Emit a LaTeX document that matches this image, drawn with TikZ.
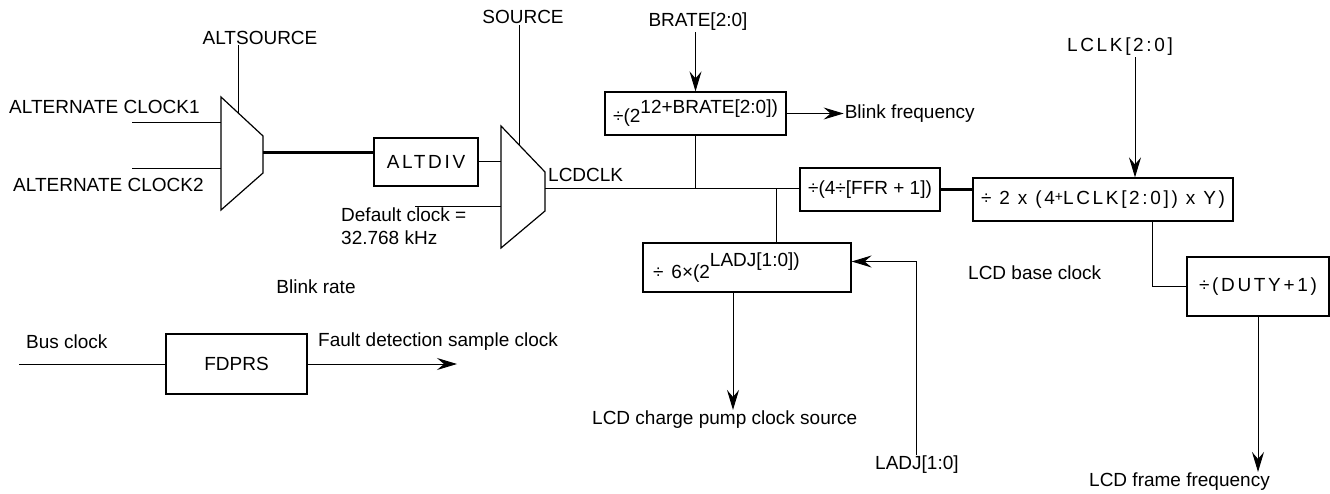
\documentclass[tikz,border=0pt]{standalone}
\usepackage{fontspec}
\setmainfont{Liberation Sans}
\usetikzlibrary{arrows.meta,positioning,calc}

\begin{document}
\begin{tikzpicture}[
        x=1pt, y=-1pt,
        every node/.style={font=\fontsize{19}{23}\selectfont},
        divBox/.style={
            draw,
            line width=1.2pt,
            inner sep=0pt,
            font=\fontsize{19}{23}\selectfont
        },
        spacedText/.style={
            font=\fontsize{19}{23}\selectfont\addfontfeature{LetterSpace=14}
        },
        sigLabel/.style={
            inner sep=1pt
        },
        signal/.style={
            line width=1pt
        },
        pointer/.style={
            -{Stealth[length=20pt,width=12pt,inset=7pt]},
            line width=1pt
        },
        busLine/.style={
            line width=3pt
        },
        muxShape/.style={
            line width=1.2pt,
            line join=miter
        }
    ]

        \useasboundingbox (0,0) rectangle (1330,494);

        % Multiplexers
        \coordinate (m1tl) at (221,97);
        \coordinate (m1tr) at (263,136);
        \coordinate (m1br) at (263,173);
        \coordinate (m1bl) at (221,210);
        \draw[muxShape] (m1tl) -- (m1tr) -- (m1br) -- (m1bl) -- cycle;

        \coordinate (m2tl) at (501,126);
        \coordinate (m2tr) at (545,172);
        \coordinate (m2br) at (545,211);
        \coordinate (m2bl) at (501,248);
        \draw[muxShape] (m2tl) -- (m2tr) -- (m2br) -- (m2bl) -- cycle;

        \coordinate (m1in1) at (221,123);
        \coordinate (m1in2) at (221,169);
        \coordinate (m1out) at (263,153);
        \coordinate (m1sel) at ($(m1tl)!0.405!(m1tr)$);
        \coordinate (m2in2) at (501,207);
        \coordinate (m2out) at (545,189);
        \coordinate (m2sel) at ($(m2tl)!0.43!(m2tr)$);

        % Divider blocks
        \node[divBox, spacedText, minimum width=104pt, minimum height=48pt]
            (altdiv) at (426,162) {ALTDIV};
        \node[divBox, minimum width=181pt, minimum height=43pt]
            (brate) at (695.5,113.5) {÷(2\raisebox{9pt}{12+BRATE[2:0])}};
        \node[divBox, line width=2pt, minimum width=140pt, minimum height=43pt]
            (ffr) at (870,190) {÷(4÷[FFR + 1])};
        \node[divBox, minimum height=49pt, text width=188pt, align=left,
            inner xsep=10pt]
            (ladj) at (747,267.5) {÷\hspace{8pt}6×(2\raisebox{12pt}{LADJ[1:0])}};
        \node[divBox, spacedText, minimum width=260pt, minimum height=43pt]
            (lclk) at (1103,199.5)
            {÷ 2 x (4\raisebox{3pt}{\fontsize{14}{14}\selectfont+}LCLK[2:0]) x Y)};
        \node[divBox, spacedText, minimum width=142pt, minimum height=59pt]
            (duty) at (1258,286.5) {÷(DUTY+1)};
        \node[divBox, minimum width=141pt, minimum height=60pt]
            (fdprs) at (236.5,364) {FDPRS};

        % Signal labels
        \node[sigLabel] (altsrc) at (260,37.5) {ALTSOURCE};
        \node[sigLabel, anchor=west] (clk1) at (8,107) {ALTERNATE CLOCK1};
        \node[sigLabel, anchor=west] (clk2) at (12,185) {ALTERNATE CLOCK2};
        \node[sigLabel] (src) at (523,17) {SOURCE};
        \node[sigLabel, anchor=west, align=left] (defclk) at (340,226)
            {Default clock =\\32.768 kHz};
        \node[sigLabel, anchor=west] (lcdclk) at (547,175) {LCDCLK};
        \node[sigLabel] (bratel) at (698,22) {BRATE[2:0]};
        \node[sigLabel, right=57pt of brate] (blinkf) {Blink frequency};
        \node[sigLabel, spacedText] (lclkl) at (1120,47) {LCLK[2:0]};
        \node[sigLabel, anchor=west] (baseclk) at (967,273) {LCD base clock};
        \node[sigLabel] (blinkr) at (316,287) {Blink rate};
        \node[sigLabel, anchor=west] (busclk) at (25,342) {Bus clock};
        \node[sigLabel, anchor=west] (fault) at (317,342)
            {Fault detection sample clock};
        \node[sigLabel, anchor=west] (pump) at (591,420)
            {LCD charge pump clock source};
        \node[sigLabel, anchor=west] (ladjl) at (874,465) {LADJ[1:0]};
        \node[sigLabel, anchor=west] (frame) at (1088,482) {LCD frame frequency};

        % Free ends
        \coordinate (clk1end) at (132,123);
        \coordinate (clk2end) at (132,169);
        \coordinate (defend) at (415,207);
        \coordinate (busend) at (19,364);
        \coordinate (faultend) at (457,364);
        \coordinate (tap2) at (776,189);

        % Clock source selection
        \draw[signal] (clk1end) -- (m1in1);
        \draw[signal] (clk2end) -- (m1in2);
        \draw[signal] (m1sel |- altsrc.south) -- (m1sel);
        \draw[busLine] (m1out) -- (m1out -| altdiv.west);
        \draw[signal] (altdiv.east) -- (altdiv.east -| m2tl);
        \draw[signal] (defend) -- (m2in2);
        \draw[signal] (m2sel |- src.south) -- (m2sel);
        \draw[signal] (m2out) -- (m2out -| ffr.west);

        % Blink and charge pump branches
        \draw[signal] (brate.south) -- (brate.south |- m2out);
        \draw[pointer] (brate.north |- bratel.south) -- (brate.north);
        \draw[pointer] (brate.east) -- (brate.east -| blinkf.west);
        \draw[signal] (tap2) -- (tap2 |- ladj.north);
        \draw[pointer] ([xshift=-14pt]ladj.south)
            -- ([xshift=-14pt]ladj.south |- pump.north);
        \draw[pointer] (ladjl.north) |- ([yshift=6pt]ladj.east);

        % Frame frequency chain
        \draw[busLine] (ffr.east) -- (ffr.east -| lclk.west);
        \draw[pointer] ([xshift=15pt]lclkl.south)
            -- ([xshift=15pt]lclkl.south |- lclk.north);
        \draw[signal] ([xshift=49pt]lclk.south) |- (duty.west);
        \draw[pointer] (duty.south) -- (duty.south |- frame.north);

        % Fault detection prescaler
        \draw[signal] (busend) -- (fdprs.west);
        \draw[pointer] (fdprs.east) -- (faultend);

    \end{tikzpicture}
\end{document}
